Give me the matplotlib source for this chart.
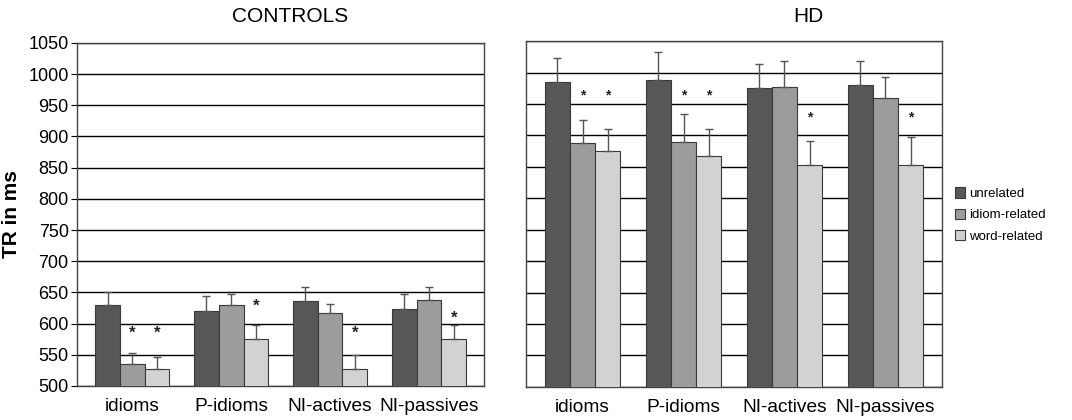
import numpy as np
import matplotlib
matplotlib.use("Agg")
import matplotlib.pyplot as plt

plt.rcParams['font.family'] = ['Liberation Sans', 'DejaVu Sans']

categories = ['idioms', 'P-idioms', 'NI-actives', 'NI-passives']
conditions = ['unrelated', 'idiom-related', 'word-related']
colors = ['#575757', '#9c9c9c', '#d2d2d2']

# mean reaction times (ms), one list per condition
ctrl_means = [
    [629, 620, 636, 623],   # unrelated
    [535, 629, 617, 638],   # idiom-related
    [528, 576, 528, 576],   # word-related
]
ctrl_errs = [
    [22, 25, 22, 24],
    [18, 18, 14, 21],
    [18, 22, 21, 22],
]
hd_means = [
    [985, 988, 975, 981],
    [888, 890, 977, 960],
    [876, 867, 853, 853],
]
hd_errs = [
    [38, 44, 39, 37],
    [37, 44, 42, 33],
    [35, 43, 38, 45],
]

# significance stars: which bars in each group, and at what level
ctrl_star_bars = [[1, 2], [2], [2], [2]]
ctrl_star_y = [585, 627, 585, 609]
hd_star_bars = [[1, 2], [1, 2], [2], [2]]
hd_star_y = [963, 963, 929, 929]

fig = plt.figure(figsize=(10.72, 4.2), dpi=100)
ax1 = fig.add_axes([0.0718, 0.081, 0.380, 0.817])
ax2 = fig.add_axes([0.4907, 0.079, 0.388, 0.823])

width = 0.25
x = np.arange(len(categories))


def draw_panel(ax, means, errs, star_bars, star_y, star_size):
    for i in range(len(conditions)):
        pos = x + (i - 1) * width
        ax.bar(pos, means[i], width, color=colors[i], edgecolor='#3a3a3a',
               linewidth=0.8, label=conditions[i], zorder=3)
        ax.errorbar(pos, means[i], yerr=[np.zeros(len(x)), errs[i]], fmt='none',
                    ecolor='#555555', elinewidth=1, capsize=3, capthick=1, zorder=4)
    for g in range(len(categories)):
        for b in star_bars[g]:
            ax.text(x[g] + (b - 1) * width, star_y[g], '*', ha='center', va='center',
                    fontsize=star_size, fontweight='bold', color='#222222', zorder=5)
    ax.set_ylim(500, 1050)
    ax.set_xlim(-0.56, 3.56)
    ax.set_yticks(np.arange(500, 1051, 50))
    ax.yaxis.grid(True, color='black', linewidth=1)
    ax.set_axisbelow(True)
    ax.set_xticks(x)
    ax.set_xticklabels(categories, fontsize=13.8)
    ax.tick_params(axis='x', length=0, pad=9)
    for s in ax.spines.values():
        s.set_color('#444444')
        s.set_linewidth(1)


draw_panel(ax1, ctrl_means, ctrl_errs, ctrl_star_bars, ctrl_star_y, 12)
draw_panel(ax2, hd_means, hd_errs, hd_star_bars, hd_star_y, 10)

ax1.tick_params(axis='y', labelsize=13, length=4, pad=2)
ax1.set_ylabel('TR in ms', fontsize=15, fontweight='bold', labelpad=5)
ax2.tick_params(axis='y', length=0, labelleft=False)

fig.text(290 / 1072, 1 - 17 / 420, 'CONTROLS', ha='center', va='center', fontsize=15)
fig.text(808 / 1072, 1 - 17 / 420, 'HD', ha='center', va='center', fontsize=15)

handles, labels = ax2.get_legend_handles_labels()
fig.legend(handles, labels, loc='center left', bbox_to_anchor=(943 / 1072, 1 - 215 / 420),
           frameon=False, fontsize=9.5, handlelength=0.8, handleheight=0.8,
           handletextpad=0.3, labelspacing=0.65)

fig.savefig('out.png', dpi=100)
